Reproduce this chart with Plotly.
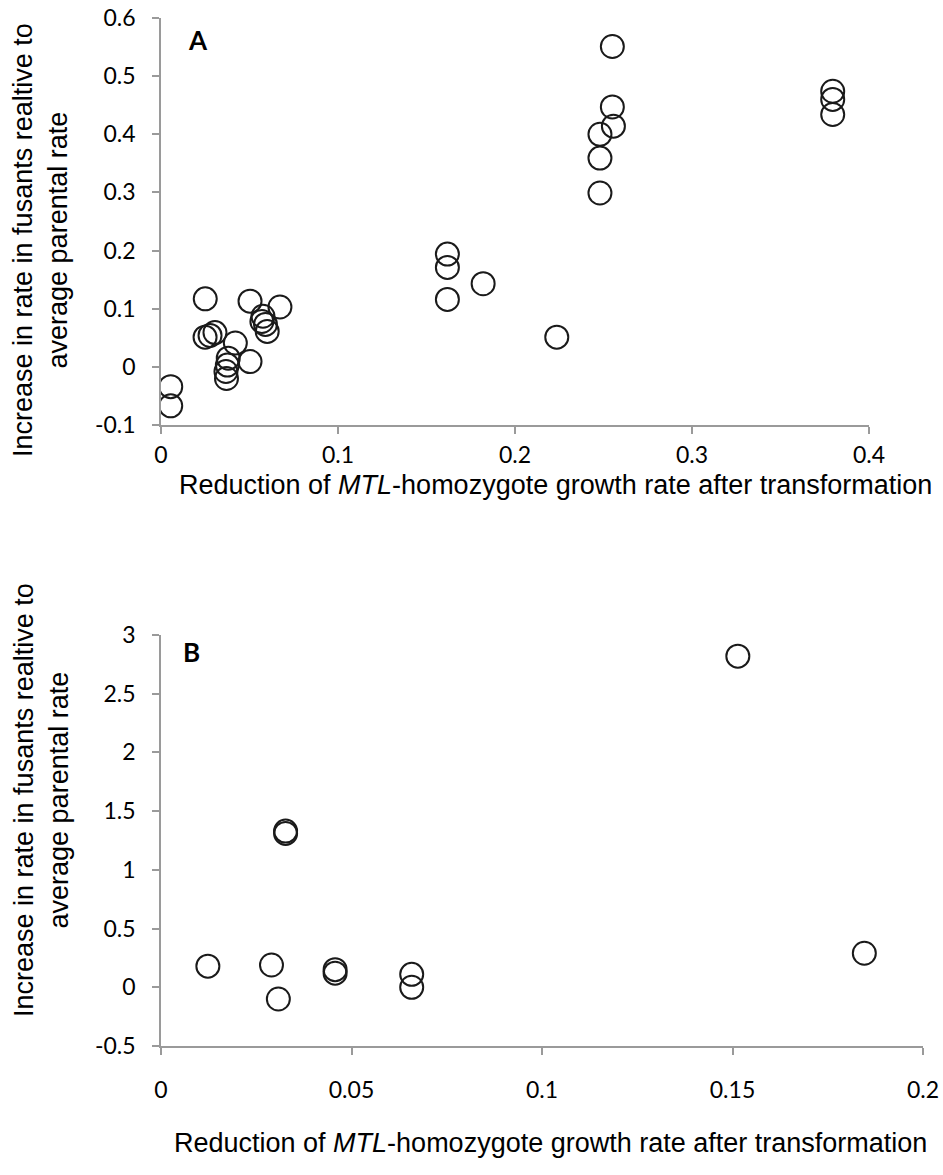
import plotly.graph_objects as go

# Panel A data
a_x = [0.0055, 0.0055, 0.025, 0.0249, 0.0277, 0.0305, 0.042, 0.038, 0.0375, 0.0367, 0.037,
       0.0503, 0.0503, 0.0576, 0.057, 0.059, 0.060, 0.0672, 0.1618, 0.1618, 0.1618, 0.182,
       0.2236, 0.248, 0.248, 0.248, 0.255, 0.2556, 0.255, 0.3795, 0.3795, 0.3795]
a_y = [-0.034, -0.067, 0.117, 0.051, 0.054, 0.059, 0.041, 0.015, 0.003, -0.008, -0.02,
       0.113, 0.009, 0.087, 0.078, 0.073, 0.061, 0.103, 0.194, 0.171, 0.116, 0.143,
       0.051, 0.400, 0.359, 0.299, 0.551, 0.414, 0.447, 0.474, 0.460, 0.434]

# Panel B data
b_x = [0.0123, 0.029, 0.0308, 0.0327, 0.0327, 0.0457, 0.0457, 0.0658, 0.0658, 0.1514, 0.1846]
b_y = [0.18, 0.19, -0.10, 1.33, 1.31, 0.15, 0.12, 0.11, 0.00, 2.82, 0.29]

a_xticks = [0, 0.1, 0.2, 0.3, 0.4]
a_yticks = [-0.1, 0, 0.1, 0.2, 0.3, 0.4, 0.5, 0.6]
b_xticks = [0, 0.05, 0.1, 0.15, 0.2]
b_yticks = [-0.5, 0, 0.5, 1, 1.5, 2, 2.5, 3]

y_title = "Increase in rate in fusants realtive to<br>average parental rate"
x_title = "Reduction of <i>MTL</i>-homozygote growth rate after transformation"

W, H = 943, 1175

def px_x(p):
    return p / W

def px_y(p):
    return 1 - p / H

marker = dict(symbol="circle-open", size=23, color="#1a1a1a", line=dict(width=2, color="#1a1a1a"))

fig = go.Figure()
fig.add_trace(go.Scatter(x=a_x, y=a_y, mode="markers", marker=marker, xaxis="x", yaxis="y", showlegend=False))
fig.add_trace(go.Scatter(x=b_x, y=b_y, mode="markers", marker=marker, xaxis="x2", yaxis="y2", showlegend=False))

tickfont = dict(family="Lato", size=23, color="#000")
axis_common = dict(showgrid=False, zeroline=False, showline=True, linecolor="#9a9a9a", linewidth=1.5,
                   ticks="outside", ticklen=7, tickcolor="#9a9a9a", tickwidth=1.5,
                   tickfont=tickfont, automargin=False)

fig.update_layout(
    width=W, height=H,
    margin=dict(l=0, r=0, t=0, b=0),
    paper_bgcolor="white", plot_bgcolor="white",
    xaxis=dict(domain=[px_x(161), px_x(869)], range=[0, 0.4], tickvals=a_xticks,
               ticktext=[f"{v:g}" for v in a_xticks], anchor="y", ticklabelstandoff=2, **axis_common),
    yaxis=dict(domain=[px_y(425), px_y(18)], range=[-0.1, 0.6], tickvals=a_yticks,
               ticktext=[f"{v:g}" for v in a_yticks], anchor="x", ticklabelstandoff=12, **axis_common),
    xaxis2=dict(domain=[px_x(161), px_x(923)], range=[0, 0.2], tickvals=b_xticks,
                ticktext=[f"{v:g}" for v in b_xticks], anchor="y2", ticklabelstandoff=16, **axis_common),
    yaxis2=dict(domain=[px_y(1046), px_y(635)], range=[-0.5, 3], tickvals=b_yticks,
                ticktext=[f"{v:g}" for v in b_yticks], anchor="x2", ticklabelstandoff=12, **axis_common),
)

title_font = dict(family="Liberation Sans", size=27, color="#000")
annots = [
    dict(text=x_title, x=px_x(555), y=px_y(485), xanchor="center", yanchor="middle", showarrow=False, font=title_font),
    dict(text=x_title, x=px_x(550), y=px_y(1143), xanchor="center", yanchor="middle", showarrow=False, font=title_font),
    dict(text=y_title, x=px_x(41), y=px_y(240), xanchor="center", yanchor="middle", textangle=-90, showarrow=False, font=title_font),
    dict(text=y_title, x=px_x(41), y=px_y(800), xanchor="center", yanchor="middle", textangle=-90, showarrow=False, font=title_font),
    dict(text="<b>A</b>", x=px_x(198), y=px_y(40), xanchor="center", yanchor="middle", showarrow=False,
         font=dict(family="Lato", size=26, color="#000")),
    dict(text="<b>B</b>", x=px_x(191), y=px_y(652), xanchor="center", yanchor="middle", showarrow=False,
         font=dict(family="Lato", size=26, color="#000")),
]
for a in annots:
    a["xref"] = "paper"
    a["yref"] = "paper"
fig.update_layout(annotations=annots)

fig.write_html("out.html")
